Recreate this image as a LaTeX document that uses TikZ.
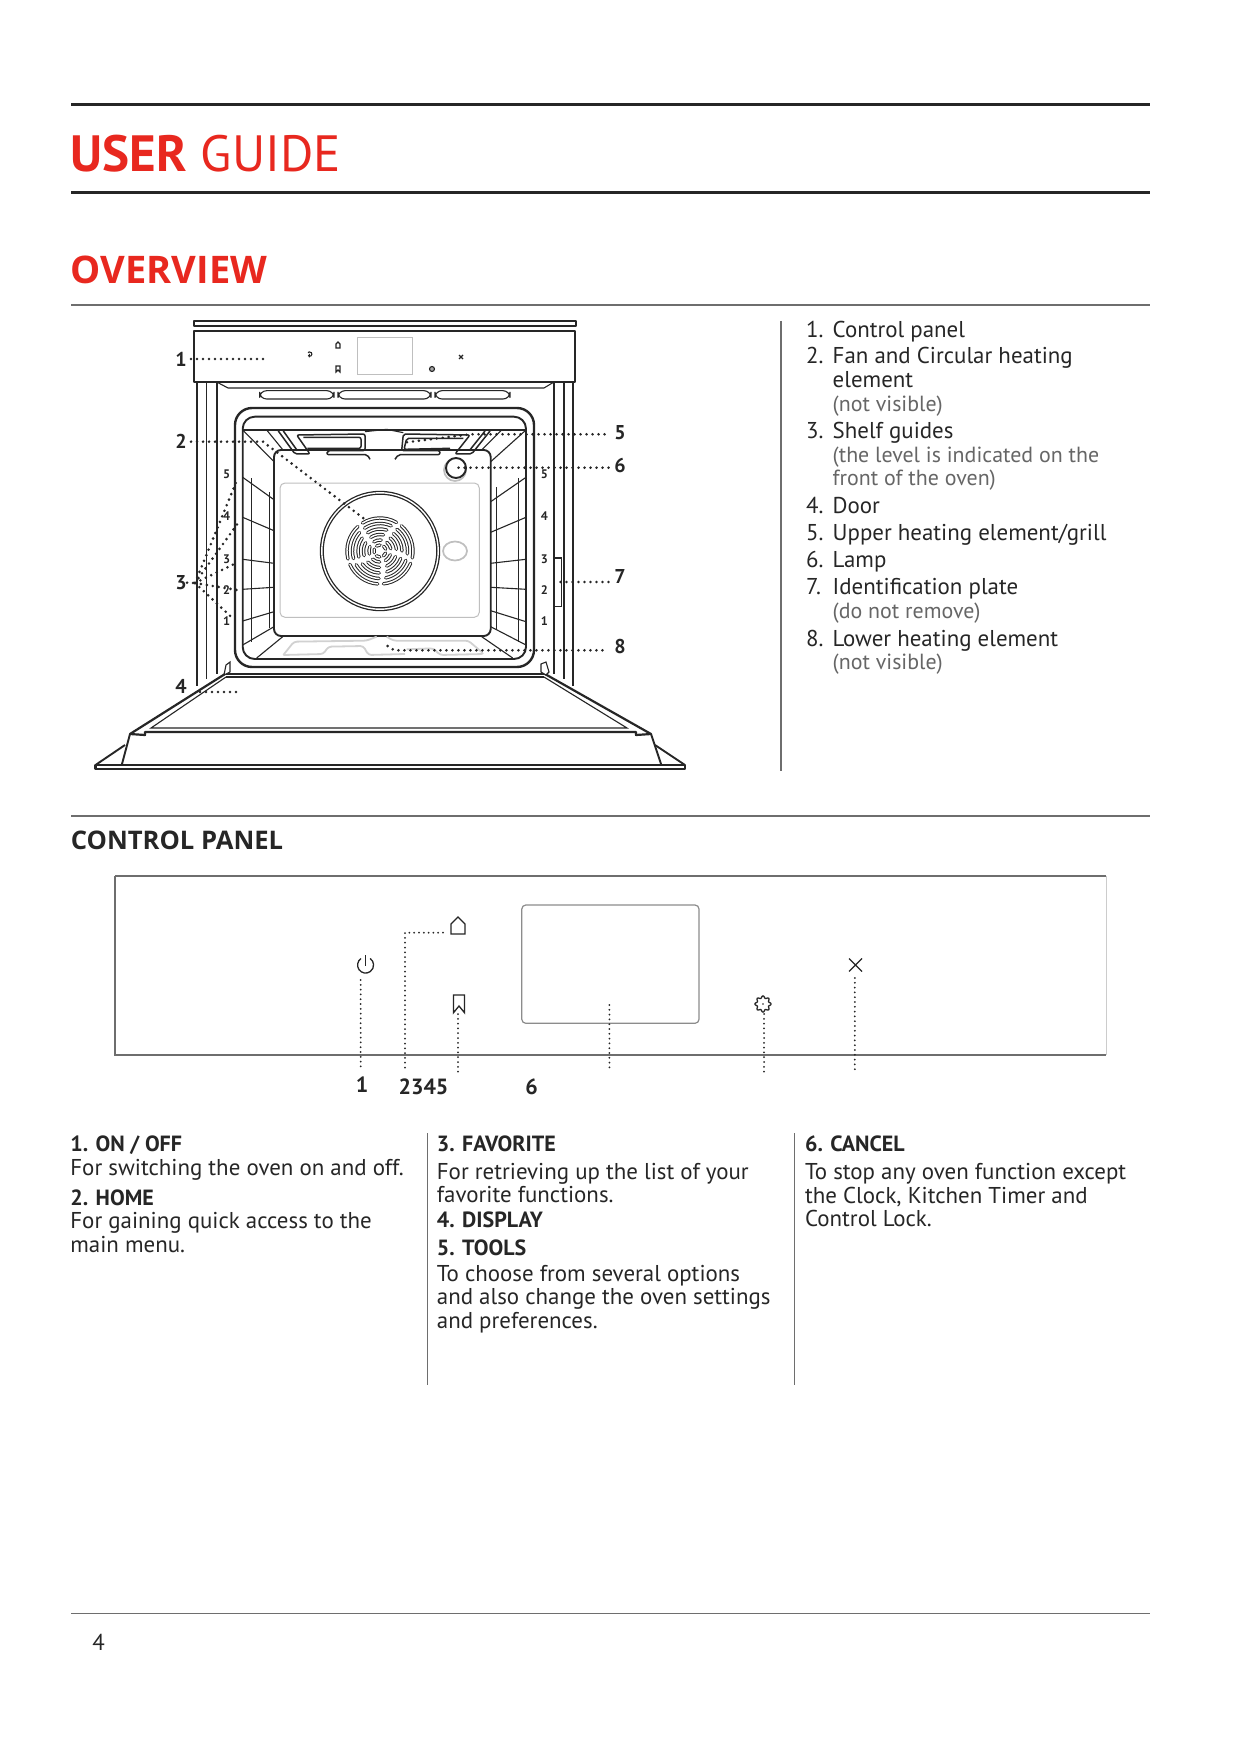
\documentclass[tikz,border=0pt]{standalone}
\usepackage{fontspec}
\setmainfont{PT Sans}
\newfontfamily\headfont{Open Sans}
\usetikzlibrary{positioning}
\definecolor{guidered}{HTML}{E8281F}
\definecolor{guideink}{HTML}{262626}
\definecolor{guidegray}{HTML}{6E6E6E}

\begin{document}
\begin{tikzpicture}[
  x=0.5pt, y=-0.5pt,
  heavy/.style={line width=1.5pt, color=guideink},
  thin rule/.style={line width=0.55pt, color=guidegray},
  oven/.style={line width=0.95pt, color=guideink, line join=round},
  ovenlite/.style={line width=0.55pt, color=guideink},
  ghost/.style={line width=0.5pt, color=black!25},
  leader/.style={line width=1.45pt, color=guideink, dash pattern=on 0pt off 3pt, line cap=round},
  paneldots/.style={line width=1pt, color=guideink, dash pattern=on 0pt off 2.4pt, line cap=round},
  icon/.style={line width=0.65pt, color=guideink},
  blade/.style={line width=0.5pt, color=guideink, double=white, double distance=0.7pt, line cap=round},
  num/.style={font=\bfseries\fontsize{10}{10}\selectfont, text=guideink, inner sep=0pt},
  key/.style={font=\bfseries\fontsize{11}{11}\selectfont, text=guideink, inner sep=0pt},
  rack/.style={font=\bfseries\fontsize{6.2}{6.2}\selectfont, text=guideink, inner sep=0pt},
  body/.style={font=\fontsize{11.45}{11.75}\selectfont, text=guideink, anchor=base west, inner sep=0pt, yshift=-0.3pt},
  note/.style={body, font=\fontsize{10.95}{11.75}\selectfont, text=black!60},
  head/.style={font=\bfseries\fontsize{11}{11.75}\selectfont, text=guideink, anchor=base west, inner sep=0pt, yshift=-0.4pt}
]
\path[use as bounding box, fill=white] (0,0) rectangle (1241,1754);

% page rules and titles
\draw[heavy] (71,104.5) -- (1150,104.5);
\draw[heavy] (71,193) -- (1150,193);
\draw[thin rule] (71,305) -- (1150,305);
\draw[thin rule] (71,816) -- (1150,816);
\draw[thin rule] (71,1613.5) -- (1150,1613.5);
\draw[thin rule] (781,321) -- (781,771);
\draw[thin rule] (427.3,1133) -- (427.3,1385);
\draw[thin rule] (794.5,1133) -- (794.5,1385);

\node[anchor=base west, inner sep=0pt, text=guidered, font=\fontsize{25.5}{25.5}\selectfont] (title) at (70.5,172) {\textbf{USER} GUIDE};
\node[anchor=base west, inner sep=0pt, text=guidered, font=\headfont\bfseries\fontsize{19}{19}\selectfont] (overview) at (70.5,283.5) {OVERVIEW};
\node[anchor=base west, inner sep=0pt, text=guideink, font=\headfont\bfseries\fontsize{12.8}{12.8}\selectfont] (ctrltitle) at (70.5,849) {CONTROL PANEL};

% control strip of the oven
\draw[oven] (194,321) rectangle (576,326);
\draw[oven, line width=1.1pt] (194,331) rectangle (575,382);
\draw[ghost] (357.5,338) rectangle (412.7,375);
\draw[ovenlite] (309.4,354) -- (309.4,357.5) (308,355.5) arc[start angle=140, end angle=-140, radius=2.2];
\draw[ovenlite] (336,348) -- (336,344) -- (338,342) -- (340,344) -- (340,348) -- cycle;
\draw[ovenlite] (336,372) -- (336,366) -- (340,366) -- (340,372) -- (338,370) -- cycle;
\draw[ovenlite, fill=black!35] (432,369) circle[radius=2.5];
\draw[ovenlite] (459,355) -- (463,359) (459,359) -- (463,355);

% side posts and vents
\draw[oven] (197,382) -- (197,686);
\draw[ovenlite] (206.5,382) -- (206.5,679);
\draw[oven] (216.7,382) -- (216.7,674);
\draw[oven] (573,382) -- (573,686);
\draw[ovenlite] (564,382) -- (564,679);
\draw[oven] (554,382) -- (554,674);
\draw[ovenlite] (216.7,382) -- (228,388) -- (544,388) -- (554,382);
\draw[ovenlite, rounded corners=3.5pt] (259.6,390.7) rectangle (334,399);
\draw[ovenlite, rounded corners=3.5pt] (338,390.7) rectangle (431,399);
\draw[ovenlite, rounded corners=3.5pt] (435,390.7) rectangle (510,399);
\draw[ovenlite] (554,558) -- (561.6,558) -- (561.6,606.7) -- (554,606.7);

% cavity
\draw[line width=1.2pt, color=guideink, rounded corners=8.5pt] (235,408) rectangle (534,667);
\draw[oven, rounded corners=6pt] (242.7,416.7) rectangle (526,659);
\draw[oven, rounded corners=3.5pt] (274,450) rectangle (490.7,636);
\draw[ghost, rounded corners=2.5pt] (280,483) rectangle (479.3,617.3);
\draw[oven] (242.7,430) -- (526,430);
\draw[ovenlite] (242.7,430) -- (274,461.7) (266.7,430) -- (283,450);
\draw[ovenlite] (526,430) -- (490.7,461.7) (501.7,430) -- (481.7,450);
\draw[ovenlite] (242.7,645) -- (274,626.7) (256.7,658) -- (282.7,636.7);
\draw[ovenlite] (526,645) -- (490.7,626.7) (512.7,658) -- (481.7,636.7);

% shelf guides
\draw[ovenlite] (251.7,478) -- (251.7,642) (269.3,492) -- (269.3,628);
\draw[ovenlite] (518.3,478) -- (518.3,642) (496.7,487) -- (496.7,630);
\foreach \ly/\ry in {477.3/499.7, 517.3/530.7, 559.3/563.3, 589.3/587.3, 621/611.7} {
  \draw[ovenlite] (242.7,\ly) -- (274,\ry);
}
\foreach \ly/\ry in {477.3/501.7, 517.3/532.3, 559.3/563.3, 589.3/587.3, 621.7/610.7} {
  \draw[ovenlite] (526,\ly) -- (490.7,\ry);
}
\foreach \lev/\yy in {5/474, 4/515.7, 3/559, 2/590, 1/621} {
  \node[rack] (rackl\lev) at (226.7,\yy) {\lev};
  \node[rack] (rackr\lev) at (544.3,\yy) {\lev};
}

% fan and circular element
\draw[line width=0.65pt, color=guideink, double=white, double distance=0.7pt] (380,551) circle[radius=58.2];
\begin{scope}[shift={(380,551)}, yscale=-1]
\foreach \start in {60, 132, 204, 276, 348} {
  \foreach \rad/\off/\span in {33/0/62, 27.5/6/58, 22/12/52, 16.5/18/46, 11/24/40, 6/30/34} {
    \draw[blade] ({\rad*cos(\start+\off)},{\rad*sin(\start+\off)}) arc[start angle=\start+\off, delta angle=\span, radius=\rad];
  }
}
\end{scope}
\draw[ghost, line width=0.85pt] (455,551) ellipse[x radius=12, y radius=9.5];

% upper heating element
\begin{scope}[shift={(250,420)}, scale=1/3]
\draw[oven, line width=0.75pt, rounded corners=1pt] (85,33) -- (135,102) -- (180,102) -- (140,45) -- (345,42) -- (345,92) -- (232,92) -- (230,104) -- (352,104) -- (360,118);
\draw[oven, line width=0.75pt, rounded corners=1pt] (100,33) -- (142,92) (160,52) -- (333,52) -- (333,85) -- (172,85);
\draw[oven, line width=0.75pt, rounded corners=1pt] (720,33) -- (665,102) -- (615,102) -- (660,45) -- (460,42) -- (455,92) -- (570,92) -- (570,104) -- (445,104) -- (435,118);
\draw[oven, line width=0.75pt, rounded corners=1pt] (705,33) -- (658,92) (640,55) -- (470,55) -- (462,88) -- (600,85);
\draw[ovenlite] (345,35) -- (410,28) -- (460,38);
\end{scope}

% lamp
\draw[ghost, line width=0.85pt] (455,470) circle[radius=11];
\draw[oven, fill=white] (456,468) circle[radius=10];

% lower heating element
\begin{scope}[shift={(220,400)}, scale=1/3]
\draw[ghost, line width=0.9pt, color=black!18, rounded corners=1.5pt] (190,765) -- (222,725) -- (440,722) -- (470,710) (190,765) -- (310,762) -- (325,740) -- (430,738) -- (445,765) -- (555,762);
\draw[ghost, line width=0.9pt, color=black!18, rounded corners=1.5pt] (500,710) -- (520,722) -- (745,722) -- (792,762) -- (660,765) -- (640,745) -- (560,748);
\end{scope}

% door
\draw[oven, line width=1.1pt] (225,674) -- (545,674);
\draw[ovenlite] (226,677) -- (544,677);
\draw[oven, line width=1.1pt] (225,674) -- (130,734) -- (145,735) -- (145,732) -- (636,732) -- (636,735) -- (651,734) -- (545,674);
\draw[ovenlite] (226,677) -- (151,728) -- (627,728) -- (544,677);
\draw[oven] (130,734) -- (122,764) (651,734) -- (661,764);
\draw[oven] (125,745) -- (95.5,765) (655,745) -- (685,765);
\draw[oven, line width=1.2pt] (95.5,765) rectangle (685,769);
\draw[ovenlite, fill=white] (224,675) -- (226,665) -- (230,662) -- (230,672) -- cycle;
\draw[ovenlite, fill=white] (546,675) -- (541,672) -- (541,664) -- (546,662) -- (549,672) -- cycle;

% numbered call-outs of the oven
\node[num] (lab1) at (181,359) {1};
\node[num] (lab2) at (181,441.7) {2};
\node[num] (lab3) at (181,582.7) {3};
\node[num] (lab4) at (181,686) {4};
\node[num] (lab5) at (620,433) {5};
\node[num] (lab6) at (620,466) {6};
\node[num] (lab7) at (620,576.7) {7};
\node[num] (lab8) at (620,646.7) {8};

\coordinate (end1) at (267,359);
\coordinate (bend2) at (263,441.7);
\coordinate (end2) at (365.7,520);
\coordinate (fan3) at (195,583);
\coordinate (end4) at (241,692);
\coordinate (bend5) at (470,434.3);
\coordinate (end5) at (406.7,442.3);
\coordinate (end6) at (457.5,467.7);
\coordinate (end7) at (557.5,582);
\coordinate (bend8) at (394.3,650.3);
\coordinate (end8) at (386,645);

\draw[leader] (191,359) -- (end1);
\draw[leader] (191,441.7) -- (bend2) -- (end2);
\foreach \tipx/\tipy in {237/480, 239/521.7, 237/562.7, 237/590, 231/616.7} {
  \draw[leader] (fan3) -- (\tipx,\tipy);
}
\draw[leader] (lab3.east) -- (fan3);
\draw[leader] (200,692) -- (end4);
\draw[leader] (604.5,434.3) -- (bend5) -- (end5);
\draw[leader] (608.5,467.7) -- (end6);
\draw[leader] (608.5,582) -- (end7);
\draw[leader] (602.4,650.3) -- (bend8) -- (end8);

% list of parts
\foreach \yy/\no in {336.7/1, 363.3/2, 438.3/3, 512.7/4, 540/5, 567.3/6, 594.3/7, 646/8} {
  \node[body] (no\no) at (805.7,\yy) {\no.};
}
\foreach \yy/\txt [count=\i] in {336.7/Control panel, 363.3/Fan and Circular heating, 387.3/element, 438.3/Shelf guides, 512.7/Door, 540/Upper heating element\slash grill, 567.3/Lamp, 594.3/Identification plate, 646/Lower heating element} {
  \node[body] (part\i) at (832.3,\yy) {\txt};
}
\foreach \yy/\txt [count=\i] in {411/(not visible), 461.7/(the level is indicated on the, 485/front of the oven), 618.3/(do not remove), 669.3/(not visible)} {
  \node[note] (note\i) at (832.3,\yy) {\txt};
}

% control panel close-up
\draw[thin rule, line width=0.7pt] (115,876) -- (1106,876);
\draw[thin rule, line width=0.7pt] (115,876) -- (115,1055) -- (1106,1055);
\draw[thin rule, line width=0.4pt, color=black!20] (1106,876) -- (1106,1055);
\draw[line width=0.6pt, color=black!45, rounded corners=2pt] (521.8,905) rectangle (699,1023.3);

\draw[icon] (365.3,955) -- (365.3,966);
\draw[icon] (361,958.5) arc[start angle=-125, delta angle=-290, radius=8];
\draw[icon] (451,934) -- (451,924) -- (458,917) -- (465,924) -- (465,934) -- cycle;
\draw[icon] (453.5,995) -- (464.5,995) -- (464.5,1012.7) -- (459,1006) -- (453.5,1012.7) -- cycle;
\draw[icon, smooth] plot[domain=0:360, samples=65] ({763+(7+1.1*cos(8*\x))*cos(\x)},{1004+(7+1.1*cos(8*\x))*sin(\x)});
\fill[guideink] (763,1004) circle[radius=0.9];
\draw[icon] (849,958.5) -- (862,971.5) (849,971.5) -- (862,958.5);

\coordinate (tip1) at (360.7,980);
\coordinate (foot1) at (360.7,1071);
\coordinate (tip2) at (443,932.7);
\coordinate (bend2a) at (405,932.7);
\coordinate (foot2) at (405,1071.7);
\coordinate (tip3) at (458,1014);
\coordinate (foot3) at (458,1071.7);
\coordinate (tip4) at (609.4,1005);
\coordinate (foot4) at (609.4,1070.7);
\coordinate (tip5) at (764,1014);
\coordinate (foot5) at (764,1071.7);
\coordinate (tip6) at (854.8,978);
\coordinate (foot6) at (854.8,1070.7);

\draw[paneldots] (tip1) -- (foot1);
\draw[paneldots] (tip2) -- (bend2a) -- (foot2);
\draw[paneldots] (tip3) -- (foot3);
\draw[paneldots] (tip4) -- (foot4);
\draw[paneldots] (tip5) -- (foot5);
\draw[paneldots] (tip6) -- (foot6);

\node[key] (key1) at (362,1085) {1};
\node[key] (key2) at (423.5,1086.5) {2345};
\node[key] (key6) at (531.5,1086.5) {6};

% text columns
\node[head] (onoff) at (70,1150.7) {1. ON / OFF};
\node[body] (onofft) at (70,1175) {For switching the oven on and off.};
\node[head] (home) at (70,1205) {2. HOME};
\node[body] (homet) at (70,1228.3) {For gaining quick access to the};
\node[body] (homeu) at (70,1251.7) {main menu.};

\node[head] (fav) at (436.5,1150.7) {3. FAVORITE};
\node[body] (favt) at (436.5,1179.3) {For retrieving up the list of your};
\node[body] (favu) at (436.5,1202.3) {favorite functions.};
\node[head] (disp) at (436.5,1226.7) {4. DISPLAY};
\node[head] (tools) at (436.5,1254.3) {5. TOOLS};
\node[body] (toolst) at (436.5,1281) {To choose from several options};
\node[body] (toolsu) at (436.5,1304.3) {and also change the oven settings};
\node[body] (toolsv) at (436.5,1327.7) {and preferences.};

\node[head] (cancel) at (804.7,1150.7) {6. CANCEL};
\node[body] (cancelt) at (804.7,1179) {To stop any oven function except};
\node[body] (cancelu) at (804.7,1202.5) {the Clock, Kitchen Timer and};
\node[body] (cancelv) at (804.7,1226) {Control Lock.};

\node[body] (pageno) at (92,1650) {4};
\end{tikzpicture}
\end{document}
